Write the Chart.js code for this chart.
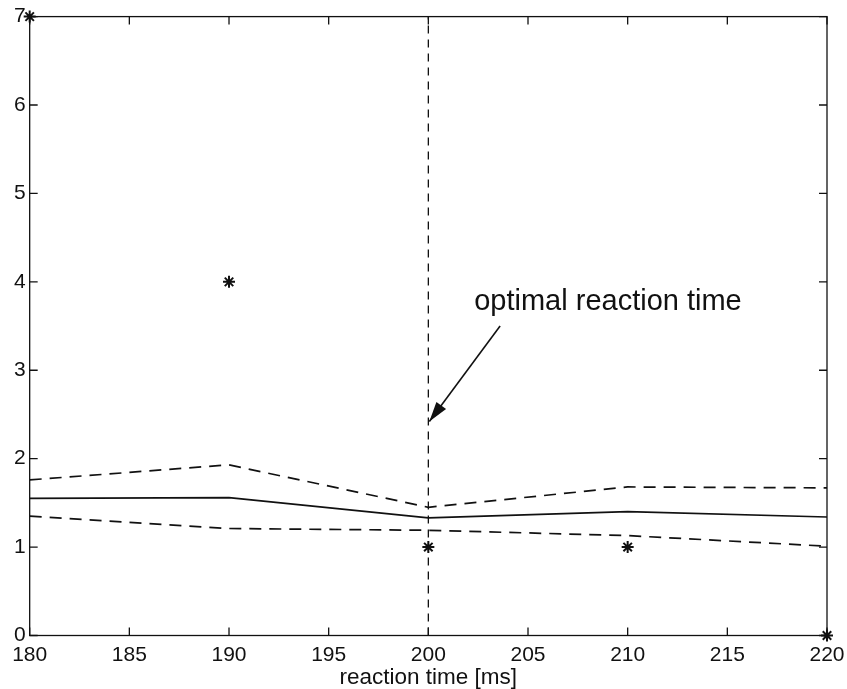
<!DOCTYPE html>
<html>
<head>
<meta charset="utf-8">
<script src="https://cdn.jsdelivr.net/npm/chart.js@4.4.1/dist/chart.umd.min.js"></script>
<style>
html,body{margin:0;padding:0;background:#fff;}
#wrap{width:847px;height:689px;position:relative;}
</style>
</head>
<body>
<div id="wrap"><canvas id="c" width="847" height="689"></canvas></div>
<script>
const reactionTimes = [180, 190, 200, 210, 220];
const upperBound = [1.76, 1.93, 1.45, 1.68, 1.67];
const meanCurve = [1.55, 1.56, 1.33, 1.40, 1.34];
const lowerBound = [1.35, 1.21, 1.19, 1.13, 1.01];
const observed = [7, 4, 1, 1, 0];
const optimalTime = 200;
const xTicks = [180, 185, 190, 195, 200, 205, 210, 215, 220];
const yTicks = [0, 1, 2, 3, 4, 5, 6, 7];
const annotationText = "optimal reaction time";
const arrowFrom = {x: 203.6, y: 3.5};
const arrowTo = {x: 200.05, y: 2.42};
const textAt = {x: 202.3, y: 3.77};

const pts = arr => reactionTimes.map((t, i) => ({x: t, y: arr[i]}));
const FONT = "'Liberation Sans', Arial, Helvetica, sans-serif";

const boxPlugin = {
  id: 'box',
  afterDraw(chart) {
    const {ctx, chartArea: a, scales: {x, y}} = chart;
    ctx.save();
    ctx.strokeStyle = '#111';
    ctx.lineWidth = 1.3;
    ctx.strokeRect(a.left, a.top, a.right - a.left, a.bottom - a.top);
    const L = 8;
    ctx.beginPath();
    xTicks.forEach(v => {
      const px = x.getPixelForValue(v);
      ctx.moveTo(px, a.bottom); ctx.lineTo(px, a.bottom - L);
      ctx.moveTo(px, a.top); ctx.lineTo(px, a.top + L);
    });
    yTicks.forEach(v => {
      const py = y.getPixelForValue(v);
      ctx.moveTo(a.left, py); ctx.lineTo(a.left + L, py);
      ctx.moveTo(a.right, py); ctx.lineTo(a.right - L, py);
    });
    ctx.stroke();

    // annotation
    ctx.fillStyle = '#111';
    ctx.font = '29px ' + FONT;
    ctx.textBaseline = 'middle';
    ctx.textAlign = 'left';
    ctx.fillText(annotationText, x.getPixelForValue(textAt.x), y.getPixelForValue(textAt.y));
    const x1 = x.getPixelForValue(arrowFrom.x), y1 = y.getPixelForValue(arrowFrom.y);
    const x2 = x.getPixelForValue(arrowTo.x), y2 = y.getPixelForValue(arrowTo.y);
    ctx.lineWidth = 1.6;
    ctx.beginPath(); ctx.moveTo(x1, y1); ctx.lineTo(x2, y2); ctx.stroke();
    const ang = Math.atan2(y2 - y1, x2 - x1);
    const hl = 20, hw = 6;
    const bx = x2 - hl * Math.cos(ang), by = y2 - hl * Math.sin(ang);
    ctx.beginPath();
    ctx.moveTo(x2, y2);
    ctx.lineTo(bx + hw * Math.sin(ang), by - hw * Math.cos(ang));
    ctx.lineTo(bx - hw * Math.sin(ang), by + hw * Math.cos(ang));
    ctx.closePath();
    ctx.fill();
    ctx.restore();
  }
};

new Chart(document.getElementById('c'), {
  type: 'scatter',
  data: {
    datasets: [
      {label: 'upper', data: pts(upperBound), showLine: true, borderColor: '#111', borderWidth: 1.7, borderDash: [12, 8], pointRadius: 0, tension: 0},
      {label: 'mean', data: pts(meanCurve), showLine: true, borderColor: '#111', borderWidth: 1.7, pointRadius: 0, tension: 0},
      {label: 'lower', data: pts(lowerBound), showLine: true, borderColor: '#111', borderWidth: 1.7, borderDash: [12, 8], pointRadius: 0, tension: 0},
      {label: 'optimal', data: [{x: optimalTime, y: yTicks[0]}, {x: optimalTime, y: yTicks[yTicks.length - 1]}], showLine: true, borderColor: '#111', borderWidth: 1.3, borderDash: [8, 6], pointRadius: 0},
      {label: 'observed', data: pts(observed), showLine: false, clip: false, pointStyle: 'star', pointRadius: 6, borderColor: '#111', borderWidth: 2, backgroundColor: '#111'}
    ]
  },
  options: {
    responsive: false,
    animation: false,
    events: [],
    layout: {padding: {left: 10, right: 0, top: 10, bottom: 0}},
    plugins: {legend: {display: false}, tooltip: {enabled: false}},
    scales: {
      x: {
        type: 'linear', min: 180, max: 220,
        afterBuildTicks: s => { s.ticks = xTicks.map(v => ({value: v})); },
        afterFit: s => { s.paddingRight = 20; s.paddingLeft = 0; },
        grid: {display: false, drawTicks: false},
        border: {display: false},
        ticks: {color: '#111', font: {family: FONT, size: 21, lineHeight: 1}, padding: 9, maxRotation: 0, autoSkip: false},
        title: {display: true, text: 'reaction time [ms]', color: '#111', font: {family: FONT, size: 22.5, lineHeight: 1}, padding: {top: -8, bottom: 0}}
      },
      y: {
        type: 'linear', min: 0, max: 7,
        afterBuildTicks: s => { s.ticks = yTicks.map(v => ({value: v})); },
        grid: {display: false, drawTicks: false},
        border: {display: false},
        ticks: {color: '#111', font: {family: FONT, size: 21}, padding: 4, autoSkip: false}
      }
    }
  },
  plugins: [boxPlugin]
});
</script>
</body>
</html>
